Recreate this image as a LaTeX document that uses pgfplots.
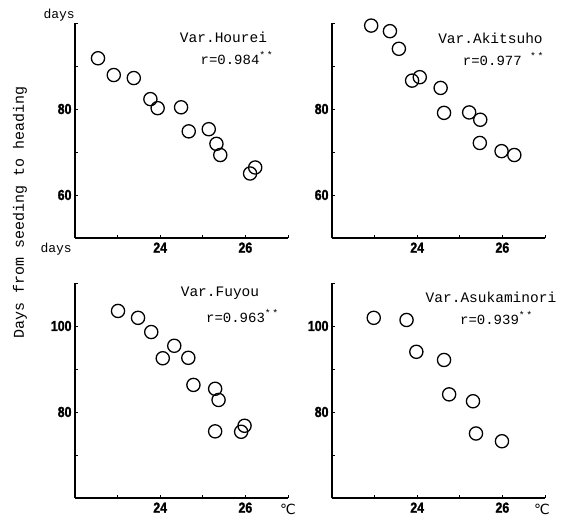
\documentclass[border=0pt]{standalone}
\usepackage{fontspec}
\setmainfont{Liberation Serif}
\newfontfamily\mono{Liberation Mono}
\newfontfamily\tickfont[FakeStretch=0.85,FakeBold=1.5]{Liberation Sans Bold}
\newfontfamily\dejavu{DejaVu Sans}
\usepackage{pgfplots}
\pgfplotsset{compat=1.18}
\pgfplotsset{
 panel/.style={
  scale only axis, width=213pt, height=215pt,
  axis lines*=left, axis line style={line width=1.3pt,-},
  xmin=22, xmax=27, xtick={23,24,25,26,27}, xticklabels={,24,,26,},
  tick align=inside, major tick length=3pt, tick style={line width=0.9pt,black},
  xticklabel style={font=\tickfont\fontsize{14.5}{14.5}\selectfont, yshift=-1pt},
  yticklabel style={font=\tickfont\fontsize{14.5}{14.5}\selectfont},
  clip=false,
 },
 pts/.style={only marks, mark=o, mark size=6.6pt, mark options={line width=1.3pt}, black},
}
\begin{document}
\begin{tikzpicture}
\useasboundingbox (0pt,0pt) rectangle (566pt,520pt);
% Panel 1: Hourei
\begin{axis}[panel, at={(75pt,282pt)}, anchor=south west,
  ymin=50, ymax=100, ytick={60,70,80,90,100}, yticklabels={60,,80,,}]
\addplot[pts] coordinates {
(22.54,91.8) (22.91,87.9) (23.38,87.2) (23.77,82.3) (23.94,80.2) (24.49,80.4)
(24.67,74.8) (25.14,75.3) (25.32,71.9) (25.41,69.3) (26.11,65.0) (26.23,66.4)};
\end{axis}
% Panel 2: Akitsuho
\begin{axis}[panel, at={(332pt,282pt)}, anchor=south west,
  ymin=50, ymax=100, ytick={60,70,80,90,100}, yticklabels={60,,80,,}]
\addplot[pts] coordinates {
(22.92,99.4) (23.36,98.1) (23.57,94.0) (23.88,86.6) (24.06,87.4) (24.55,84.9)
(24.63,79.1) (25.22,79.2) (25.48,77.5) (25.47,72.1) (25.98,70.2) (26.28,69.3)};
\end{axis}
% Panel 3: Fuyou
\begin{axis}[panel, at={(75pt,22pt)}, anchor=south west,
  ymin=60, ymax=110, ytick={70,80,90,100,110}, yticklabels={,80,,100,}]
\addplot[pts] coordinates {
(23.01,103.5) (23.48,101.9) (23.79,98.6) (24.33,95.4) (24.06,92.5) (24.66,92.6)
(24.78,86.3) (25.29,85.4) (25.37,82.8) (25.29,75.5) (25.98,76.8) (25.90,75.4)};
\end{axis}
% Panel 4: Asukaminori
\begin{axis}[panel, at={(332pt,22pt)}, anchor=south west,
  ymin=60, ymax=110, ytick={70,80,90,100,110}, yticklabels={,80,,100,}]
\addplot[pts] coordinates {
(22.98,101.9) (23.75,101.4) (23.98,94.0) (24.63,92.1) (24.75,84.1)
(25.31,82.5) (25.38,75.0) (25.99,73.2)};
\end{axis}
% texts
\node[font=\mono\fontsize{14.5}{14.5}\selectfont] at (223.5pt,483pt) {Var.Hourei};
\node[font=\mono\fontsize{14}{14}\selectfont] at (237pt,462pt) {r=0.984\textsuperscript{*\,*}};
\node[font=\mono\fontsize{14.5}{14.5}\selectfont] at (490.5pt,482pt) {Var.Akitsuho};
\node[font=\mono\fontsize{14}{14}\selectfont] at (503.5pt,461pt) {r=0.977 \textsuperscript{*\,*}};
\node[font=\mono\fontsize{14.5}{14.5}\selectfont] at (220pt,226.5pt) {Var.Fuyou};
\node[font=\mono\fontsize{14}{14}\selectfont] at (242.5pt,204pt) {r=0.963\textsuperscript{*\,*}};
\node[font=\mono\fontsize{14.5}{14.5}\selectfont] at (491pt,223pt) {Var.Asukaminori};
\node[font=\mono\fontsize{14}{14}\selectfont] at (496.5pt,202pt) {r=0.939\textsuperscript{*\,*}};
\node[font=\mono\fontsize{13}{13}\selectfont, anchor=east, inner sep=1pt] at (76pt,504.5pt) {days};
\node[font=\mono\fontsize{13}{13}\selectfont, anchor=east, inner sep=1pt] at (73pt,271pt) {days};
\node[font=\mono\fontsize{15}{15}\selectfont, rotate=90] at (20pt,308pt) {Days from seeding to heading};
\node[font=\dejavu\fontsize{14}{14}\selectfont] at (288pt,11pt) {℃};
\node[font=\dejavu\fontsize{14}{14}\selectfont] at (542pt,11pt) {℃};
\end{tikzpicture}
\end{document}
